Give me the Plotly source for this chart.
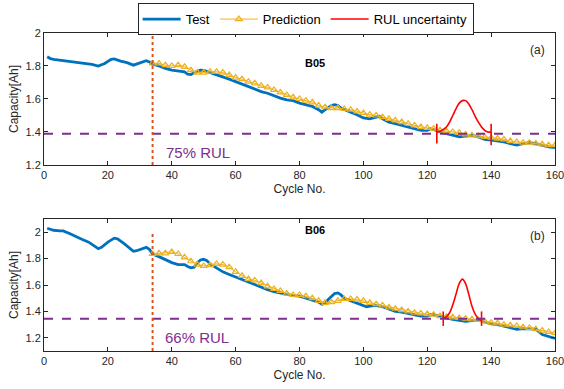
import plotly.graph_objects as go

# ---------------- data ----------------
b05_test_x = [1, 2, 3, 5, 10, 15, 17, 19, 21, 22, 24, 26, 28, 30, 32, 33, 34, 36, 38, 40, 42, 44, 45, 46, 47, 48, 49,
              50, 52, 54, 56, 58, 60, 62, 64, 66, 68, 70, 72, 74, 76, 78, 80, 82, 84, 86, 87, 88, 89, 90, 91, 92, 93,
              94, 96, 98, 100, 102, 104, 105, 106, 108, 110, 112, 114, 116, 118, 120, 121, 122, 124, 126, 128, 130,
              132, 134, 136, 138, 140, 142, 144, 146, 148, 150, 152, 154, 156, 158, 160]
b05_test_y = [1.856, 1.845, 1.84, 1.835, 1.827, 1.81, 1.80, 1.815, 1.84, 1.843, 1.83, 1.82, 1.805, 1.82, 1.832,
              1.825, 1.81, 1.80, 1.785, 1.775, 1.77, 1.765, 1.75, 1.748, 1.76, 1.77, 1.775,
              1.773, 1.76, 1.75, 1.735, 1.72, 1.705, 1.69, 1.675, 1.66, 1.645, 1.635, 1.62, 1.605, 1.595, 1.59, 1.575,
              1.565, 1.555, 1.535, 1.52, 1.535, 1.55, 1.56, 1.565, 1.56, 1.545,
              1.535, 1.52, 1.505, 1.485, 1.48, 1.49, 1.495, 1.48, 1.46, 1.45, 1.44, 1.43, 1.42, 1.41, 1.41, 1.42,
              1.415, 1.40, 1.39, 1.38, 1.37, 1.375, 1.38, 1.37, 1.355, 1.35, 1.345, 1.34, 1.33, 1.32, 1.33, 1.335,
              1.33, 1.32, 1.31, 1.305]

b05_pred_x = list(range(34, 161, 2))
b05_pred_y = [1.815, 1.815, 1.805, 1.80, 1.805, 1.795, 1.775, 1.76, 1.76, 1.765, 1.765, 1.76, 1.745, 1.73, 1.72,
              1.705, 1.695, 1.68, 1.67, 1.655, 1.64, 1.625, 1.61, 1.60, 1.59, 1.58, 1.56, 1.55, 1.545, 1.545, 1.54,
              1.535, 1.525, 1.515, 1.505, 1.50, 1.49, 1.48, 1.47, 1.46, 1.45, 1.44, 1.43, 1.425, 1.42, 1.41, 1.405,
              1.40, 1.395, 1.385, 1.38, 1.375, 1.37, 1.365, 1.36, 1.355, 1.345, 1.34, 1.335, 1.335, 1.33, 1.325,
              1.32, 1.32]

b05_rul_x = [123, 124, 125, 126, 127, 128, 129, 130, 131, 132, 133, 134, 135, 136, 137, 138, 139, 140]
b05_rul_y = [1.40, 1.405, 1.415, 1.43, 1.46, 1.50, 1.54, 1.575, 1.59, 1.59, 1.57, 1.535, 1.495, 1.46, 1.43, 1.41,
             1.40, 1.40]
b05_bars_x = [123, 140]
b05_bars_lo = [1.33, 1.32]
b05_bars_hi = [1.45, 1.45]
b05_threshold = 1.39

b06_test_x = [1, 3, 5, 6, 8, 10, 12, 14, 16, 17, 18, 20, 22, 23, 25, 27, 28, 29, 31, 32, 33, 34, 36, 38, 40, 42, 44,
              45, 46, 47, 48, 49, 50, 51, 52, 54, 56, 58, 60, 62, 64, 66, 68, 70, 72, 74, 76, 78, 80, 82, 84, 86, 87,
              88, 89, 90, 91, 92, 93, 94, 96, 98, 100, 101, 102, 104, 106, 108, 110, 112, 114, 116, 118, 120, 121,
              122, 124, 126, 128, 130, 132, 134, 136, 138, 140, 142, 144, 146, 148, 150, 152, 154, 156, 158, 160]
b06_test_y = [2.03, 2.015, 2.01, 2.01, 1.99, 1.965, 1.945, 1.925, 1.895, 1.875, 1.885, 1.925, 1.955, 1.95, 1.915,
              1.875, 1.855, 1.86, 1.88, 1.885, 1.87, 1.835, 1.815, 1.79, 1.77, 1.755, 1.755,
              1.74, 1.73, 1.735, 1.77, 1.79, 1.795, 1.785, 1.76, 1.73, 1.70, 1.68, 1.66, 1.64, 1.62, 1.605, 1.585,
              1.565, 1.55, 1.54, 1.525, 1.52, 1.515, 1.50, 1.485, 1.47, 1.455,
              1.46, 1.49, 1.515, 1.535, 1.54, 1.525, 1.50, 1.48, 1.46, 1.44, 1.435, 1.44, 1.445, 1.435, 1.415, 1.40,
              1.395, 1.385, 1.375, 1.365, 1.365, 1.375,
              1.375, 1.36, 1.35, 1.34, 1.33, 1.325, 1.33, 1.335, 1.32, 1.305, 1.30, 1.29, 1.28, 1.265, 1.27, 1.27,
              1.265, 1.225, 1.21, 1.195]

b06_pred_x = list(range(34, 161, 2))
b06_pred_y = [1.835, 1.84, 1.84, 1.85, 1.835, 1.81, 1.78, 1.755, 1.745, 1.75, 1.76, 1.755, 1.735, 1.70, 1.67,
              1.645, 1.635, 1.615, 1.59, 1.57, 1.555, 1.535, 1.525, 1.525, 1.515, 1.50, 1.48, 1.465, 1.47, 1.48,
              1.495, 1.495, 1.49, 1.48, 1.465, 1.455, 1.445, 1.43, 1.42, 1.41, 1.40, 1.39, 1.385, 1.38, 1.375,
              1.365, 1.36, 1.355, 1.35, 1.345, 1.34, 1.335, 1.325, 1.315, 1.31, 1.30, 1.295, 1.29, 1.28, 1.275,
              1.265, 1.255, 1.245, 1.235]

b06_rul_x = [125, 126, 127, 128, 129, 130, 131, 132, 133, 134, 135, 136, 137]
b06_rul_y = [1.345, 1.36, 1.39, 1.45, 1.53, 1.61, 1.645, 1.61, 1.53, 1.44, 1.38, 1.345, 1.33]
b06_bars_x = [125, 137]
b06_bars_lo = [1.29, 1.29]
b06_bars_hi = [1.40, 1.40]
b06_threshold = 1.345

start_cycle = 34
x_ticks = [0, 20, 40, 60, 80, 100, 120, 140, 160]
y_ticks = [1.2, 1.4, 1.6, 1.8, 2.0]
y_tick_text = ["1.2", "1.4", "1.6", "1.8", "2"]

# ---------------- styles ----------------
BLUE = "#0072BD"
YELLOW = "#EDB120"
RED = "#FF0000"
PURPLE = "#7E2F8E"
ORANGE = "#D95319"
AX = "#262626"
FONT = "Liberation Sans, Arial, sans-serif"

fig = go.Figure()


def add_panel(xa, ya, tx, ty, px, py, rx, ry, bx, blo, bhi, thr, show):
    fig.add_trace(go.Scatter(x=tx, y=ty, mode="lines", name="Test", line=dict(color=BLUE, width=2.8),
                             xaxis=xa, yaxis=ya, showlegend=show, legendgroup="t"))
    fig.add_trace(go.Scatter(x=px, y=py, mode="lines+markers", name="Prediction",
                             line=dict(color=YELLOW, width=1),
                             marker=dict(symbol="triangle-up-open", size=6, color=YELLOW, line=dict(width=1.2)),
                             xaxis=xa, yaxis=ya, showlegend=show, legendgroup="p"))
    fig.add_trace(go.Scatter(x=rx, y=ry, mode="lines", name="RUL uncertainty",
                             line=dict(color=RED, width=1.6, shape="spline"),
                             xaxis=xa, yaxis=ya, showlegend=show, legendgroup="r"))
    for i in range(len(bx)):
        fig.add_trace(go.Scatter(x=[bx[i], bx[i]], y=[blo[i], bhi[i]], mode="lines",
                                 line=dict(color=RED, width=1.6), xaxis=xa, yaxis=ya,
                                 showlegend=False, hoverinfo="skip"))
    fig.add_trace(go.Scatter(x=[0, 160], y=[thr, thr], mode="lines", line=dict(color=PURPLE, width=2, dash="dash"),
                             xaxis=xa, yaxis=ya, showlegend=False))


add_panel("x", "y", b05_test_x, b05_test_y, b05_pred_x, b05_pred_y, b05_rul_x, b05_rul_y,
          b05_bars_x, b05_bars_lo, b05_bars_hi, b05_threshold, True)
add_panel("x2", "y2", b06_test_x, b06_test_y, b06_pred_x, b06_pred_y, b06_rul_x, b06_rul_y,
          b06_bars_x, b06_bars_lo, b06_bars_hi, b06_threshold, False)

# vertical start lines
fig.add_trace(go.Scatter(x=[start_cycle, start_cycle], y=[1.2, 2.0], mode="lines",
                         line=dict(color=ORANGE, width=2, dash="dot"), xaxis="x", yaxis="y", showlegend=False))
fig.add_trace(go.Scatter(x=[start_cycle, start_cycle], y=[1.1, 1.99], mode="lines",
                         line=dict(color=ORANGE, width=2, dash="dot"), xaxis="x2", yaxis="y2", showlegend=False))

axis_common = dict(showline=True, linecolor=AX, linewidth=1, mirror="ticks", ticks="inside", ticklen=4,
                   tickcolor=AX, showgrid=False, zeroline=False, ticklabeloverflow="allow",
                   tickfont=dict(size=11, color=AX, family=FONT))

fig.update_layout(
    width=564, height=389,
    margin=dict(l=44, r=9, t=33, b=38, autoexpand=False),
    paper_bgcolor="white", plot_bgcolor="white",
    font=dict(family=FONT, color=AX),
    xaxis=dict(domain=[0, 1], range=[0, 160], tickvals=x_ticks, anchor="y",
               title=dict(text="Cycle No.", font=dict(size=12, color=AX), standoff=4), **axis_common),
    yaxis=dict(domain=[0.585, 1], range=[1.2, 2.0], tickvals=y_ticks, ticktext=y_tick_text, anchor="x",
               title=dict(text="Capacity[Ah]", font=dict(size=12, color=AX), standoff=4), **axis_common),
    xaxis2=dict(domain=[0, 1], range=[0, 160], tickvals=x_ticks, anchor="y2",
                title=dict(text="Cycle No.", font=dict(size=12, color=AX), standoff=4), **axis_common),
    yaxis2=dict(domain=[0, 0.415], range=[1.1, 2.1], tickvals=y_ticks, ticktext=y_tick_text, anchor="x2",
                title=dict(text="Capacity[Ah]", font=dict(size=12, color=AX), standoff=4), **axis_common),
    legend=dict(orientation="h", x=0.512, xanchor="center", y=1.094, yanchor="top",
                bordercolor=AX, borderwidth=1, bgcolor="white",
                font=dict(size=13, color="#000000", family=FONT), itemwidth=38,
                tracegroupgap=0),
    showlegend=True,
)

ann = [
    dict(x=37.5, y=1.275, xref="x", yref="y", text="75% RUL", showarrow=False, xanchor="left",
         font=dict(size=15, color=PURPLE)),
    dict(x=85, y=1.82, xref="x", yref="y", text="<b>B05</b>", showarrow=False, font=dict(size=11, color="#000")),
    dict(x=154.5, y=1.90, xref="x", yref="y", text="(a)", showarrow=False, font=dict(size=12, color=AX)),
    dict(x=37.2, y=1.2, xref="x2", yref="y2", text="66% RUL", showarrow=False, xanchor="left",
         font=dict(size=15, color=PURPLE)),
    dict(x=85, y=2.02, xref="x2", yref="y2", text="<b>B06</b>", showarrow=False, font=dict(size=11, color="#000")),
    dict(x=154.5, y=1.975, xref="x2", yref="y2", text="(b)", showarrow=False, font=dict(size=12, color=AX)),
]
fig.update_layout(annotations=ann)

fig.write_html("out.html")
